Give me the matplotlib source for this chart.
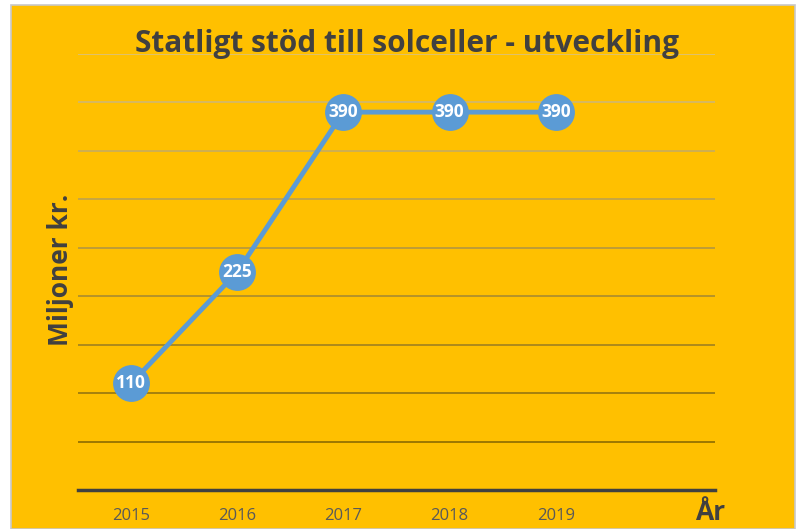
import matplotlib
matplotlib.use("Agg")
import matplotlib.pyplot as plt
from matplotlib.patches import Rectangle
import numpy as np

years = ["2015", "2016", "2017", "2018", "2019"]
values = [110, 225, 390, 390, 390]
grid_values = [50, 100, 150, 200, 250, 300, 350, 400, 450]

BG = "#FFC000"
LINE = "#5B9BD5"
TEXT = "#404040"

fig = plt.figure(figsize=(7.99, 5.29), dpi=100, facecolor="white")
fig.patches.append(Rectangle((11/799, 0), 784/799, 1 - 5/529, transform=fig.transFigure,
                             facecolor=BG, edgecolor="#C8C8C8", linewidth=1.2, zorder=-10))

ax = fig.add_axes([78/799, 1 - 490/529, 637/799, 436/529])
ax.set_facecolor("none")
x = np.arange(len(years))
ax.set_xlim(-0.5, 5.5)
ax.set_ylim(0, 450)

# gridlines, darkening towards the bottom
light = np.array([0.85, 0.76, 0.50])
dark = np.array([0.55, 0.42, 0.0])
for i, g in enumerate(grid_values):
    t = (450 - g) / 400
    c = light * (1 - t) + dark * t
    ax.axhline(g, color=c, lw=1.2, zorder=1)

ax.plot(x, values, color=LINE, lw=3.5, marker="o", markersize=25.5,
        markerfacecolor=LINE, markeredgecolor=LINE, zorder=3, clip_on=False)
for xi, v in zip(x, values):
    ax.text(xi, v, str(v), color="white", fontsize=12.5, fontweight="bold",
            ha="center", va="center", zorder=4, family=["Open Sans", "DejaVu Sans"])

for s in ["top", "right", "left"]:
    ax.spines[s].set_visible(False)
ax.spines["bottom"].set_color(TEXT)
ax.spines["bottom"].set_linewidth(2.5)
ax.set_yticks([])
ax.set_xticks(x)
ax.set_xticklabels(years, fontsize=12, color="#595959",
                   family=["Open Sans", "DejaVu Sans"])
ax.tick_params(axis="x", length=0, pad=13)

fig.text(407/799, 1 - 44/529, "Statligt stöd till solceller - utveckling", ha="center", va="center",
         fontsize=21.5, fontweight="bold", color=TEXT, family=["Open Sans", "DejaVu Sans"])
fig.text(60/799, 1 - 270/529, "Miljoner kr.", rotation=90, ha="center", va="center",
         fontsize=19, fontweight="bold", color=TEXT, family=["Open Sans", "DejaVu Sans"])
fig.text(710/799, 1 - 512/529, "År", ha="center", va="center",
         fontsize=19, fontweight="bold", color=TEXT, family=["Open Sans", "DejaVu Sans"])

fig.savefig("out.png", dpi=100, facecolor="white")
